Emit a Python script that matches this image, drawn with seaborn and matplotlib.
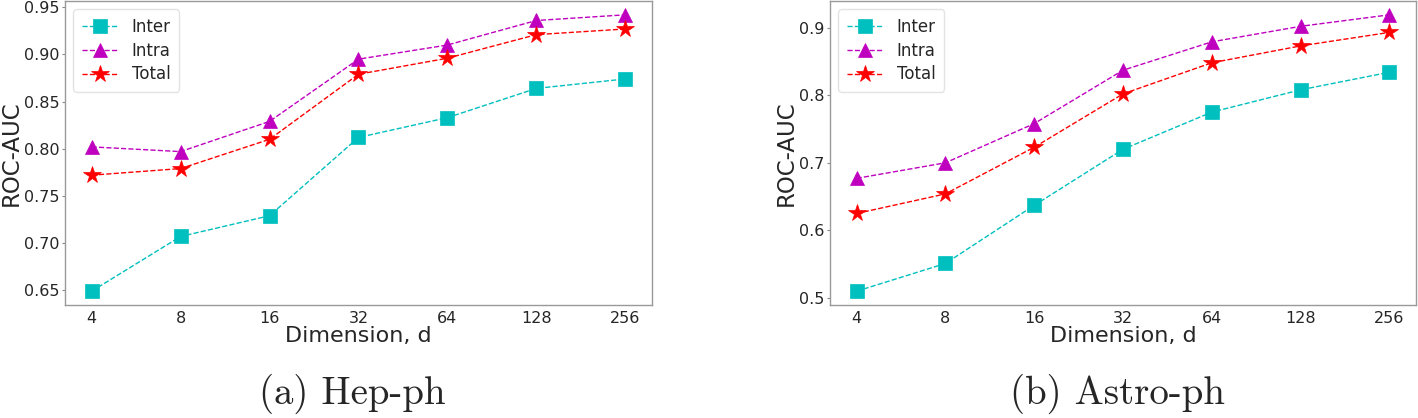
import numpy as np
import pandas as pd
import matplotlib
matplotlib.use("Agg")
import matplotlib.pyplot as plt
import seaborn as sns

# dimensions on x axis (categorical)
dims = ["4", "8", "16", "32", "64", "128", "256"]

# (a) Hep-ph
hep_inter = [0.649, 0.707, 0.729, 0.812, 0.833, 0.864, 0.874]
hep_intra = [0.802, 0.797, 0.829, 0.895, 0.910, 0.936, 0.942]
hep_total = [0.772, 0.779, 0.810, 0.879, 0.896, 0.921, 0.927]

# (b) Astro-ph
astro_inter = [0.510, 0.551, 0.637, 0.720, 0.775, 0.808, 0.834]
astro_intra = [0.677, 0.700, 0.758, 0.837, 0.879, 0.902, 0.919]
astro_total = [0.625, 0.654, 0.723, 0.802, 0.848, 0.873, 0.893]

captions = ["(a) Hep-ph", "(b) Astro-ph"]

sns.set_style("white")
plt.rcParams["font.family"] = ["DejaVu Sans"]

series_style = [
    ("Inter", "c", "s", 10),
    ("Intra", "m", "^", 10),
    ("Total", "r", "*", 13),
]

fig = plt.figure(figsize=(14.18, 4.18), dpi=100)
ax1 = fig.add_axes([0.0458, 0.2703, 0.4140, 0.7273])
ax2 = fig.add_axes([0.5853, 0.2703, 0.4133, 0.7273])

panels = [
    (ax1, [hep_inter, hep_intra, hep_total]),
    (ax2, [astro_inter, astro_intra, astro_total]),
]

for ax, values in panels:
    x = np.arange(len(dims))
    for (name, col, mk, ms), vals in zip(series_style, values):
        df = pd.DataFrame({"x": x, "y": vals})
        sns.lineplot(data=df, x="x", y="y", ax=ax, color=col, marker=mk,
                     markersize=ms, markeredgecolor=col, markeredgewidth=0.5,
                     linestyle="--", linewidth=1, label=name)
    ax.set_xticks(x)
    ax.set_xticklabels(dims)
    ax.set_xlim(-0.3, 6.3)
    ax.set_xlabel("Dimension, d", fontsize=16, labelpad=0)
    ax.set_ylabel("ROC-AUC", fontsize=16.5, labelpad=1)
    ax.tick_params(axis="both", labelsize=11.5, length=2, pad=2,
                   color="#888888", left=True, bottom=False)
    for sp in ax.spines.values():
        sp.set_color("#999999")
        sp.set_linewidth(1)
    leg = ax.legend(loc="upper left", fontsize=12, frameon=True,
                    borderpad=0.5, handlelength=2.2, labelspacing=0.35)
    leg.get_frame().set_edgecolor("#dddddd")

ax1.set_yticks([0.65, 0.70, 0.75, 0.80, 0.85, 0.90, 0.95])
ax1.set_yticklabels(["0.65", "0.70", "0.75", "0.80", "0.85", "0.90", "0.95"])
ax2.set_yticks([0.5, 0.6, 0.7, 0.8, 0.9])

for ax, cap in zip([ax1, ax2], captions):
    pos = ax.get_position()
    fig.text((pos.x0 + pos.x1) / 2 - 0.004, 1 - 394 / 418, cap, ha="center",
             va="center", fontsize=28, family="cmr10")

fig.savefig("out.png", dpi=100)
